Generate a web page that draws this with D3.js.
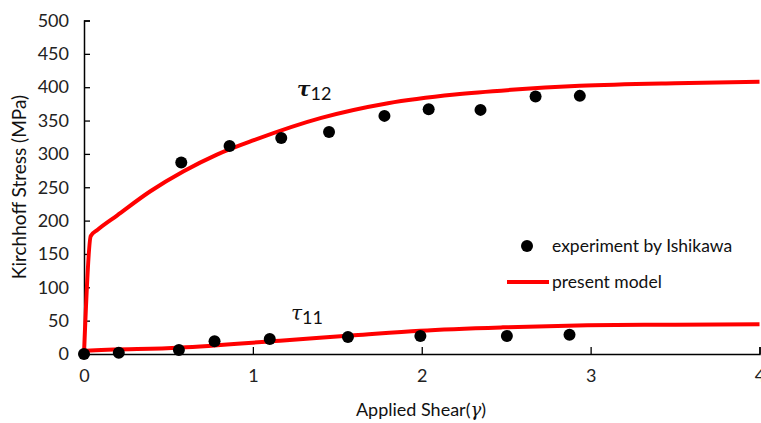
<!DOCTYPE html>
<html><head><meta charset="utf-8">
<script src="https://cdn.jsdelivr.net/npm/d3@7"></script>
<style>body{margin:0;background:#fff}svg{display:block}</style>
</head><body>
<svg id="c" width="761" height="423"></svg>
<script>
// experiment by Ishikawa, tau12
const expGamma12 = [0.576, 0.862, 1.168, 1.451, 1.779, 2.041, 2.348, 2.674, 2.936];
const expTau12   = [287, 312, 324, 333, 357, 367, 366, 386, 387];
// experiment by Ishikawa, tau11
const expGamma11 = [0, 0.206, 0.562, 0.773, 1.10, 1.563, 1.992, 2.504, 2.875];
const expTau11   = [0, 2, 6, 19, 22.5, 25.5, 27, 27, 29];
// present model, tau12
const modGamma12 = [0, 0.04, 0.079, 0.197, 0.393, 0.59, 0.787, 1.01, 1.405, 1.8, 2.196, 2.53, 2.936, 3.5, 4.0];
const modTau12   = [0, 177, 186, 208, 244, 274, 299, 321, 354, 376, 389, 396, 402, 406, 408];
// present model, tau11
const modGamma11 = [0, 0.013, 0.566, 1.16, 1.6, 1.99, 2.48, 2.98, 3.5, 4.0];
const modTau11   = [0, 5, 9.5, 20, 28, 35, 40, 43, 44, 44.5];
const xTicks = [0, 1, 2, 3, 4];
const yTicks = [0, 50, 100, 150, 200, 250, 300, 350, 400, 450, 500];

const svg = d3.select("#c");
const font = "Lato, 'Open Sans', sans-serif";
const x = d3.scaleLinear().domain([0, 4]).range([84, 759.5]);
const y = d3.scaleLinear().domain([0, 500]).range([354, 20.5]);

// axes
const gx = svg.append("g").attr("transform", `translate(0,${y(0)})`)
  .call(d3.axisBottom(x).tickValues(xTicks).tickSize(-7).tickPadding(15).tickFormat(d3.format("d")));
const gy = svg.append("g").attr("transform", `translate(${x(0)},0)`)
  .call(d3.axisLeft(y).tickValues(yTicks).tickSize(-6).tickPadding(15).tickFormat(d3.format("d")));
[gx, gy].forEach(g => {
  g.select(".domain").attr("stroke", "#000").attr("stroke-width", 1.5);
  g.selectAll(".tick line").attr("stroke", "#000").attr("stroke-width", 1.3);
  g.selectAll(".tick text").attr("fill", "#222").style("font-family", font).style("font-size", "18px");
});

// model lines
const line = d3.line().x(d => x(d[0])).y(d => y(d[1])).curve(d3.curveMonotoneX);
[[modGamma12, modTau12], [modGamma11, modTau11]].forEach(([g, t]) => {
  svg.append("path").datum(g.map((v, i) => [v, t[i]]))
    .attr("d", line).attr("fill", "none").attr("stroke", "#ff0000")
    .attr("stroke-width", 4).attr("stroke-linejoin", "round");
});

// experiment points
[[expGamma12, expTau12], [expGamma11, expTau11]].forEach(([g, t]) => {
  svg.append("g").selectAll("circle").data(g.map((v, i) => [v, t[i]])).join("circle")
    .attr("cx", d => x(d[0])).attr("cy", d => y(d[1])).attr("r", 6).attr("fill", "#000");
});

// curve labels
const l12 = svg.append("text").attr("x", 297).attr("y", 96)
  .style("font-family", "'DejaVu Serif', serif").style("font-size", "20px")
  .style("font-weight", "bold").style("font-style", "italic").attr("fill", "#111");
l12.append("tspan").text("τ");
l12.append("tspan").attr("dy", 4).style("font-family", font).style("font-weight", "normal")
  .style("font-style", "normal").style("font-size", "18px").text("12");
const l11 = svg.append("text").attr("x", 291).attr("y", 320)
  .style("font-family", "'DejaVu Serif', serif").style("font-size", "20px")
  .style("font-style", "italic").attr("fill", "#111");
l11.append("tspan").text("τ");
l11.append("tspan").attr("dy", 4).style("font-family", font)
  .style("font-style", "normal").style("font-size", "18px").text("11");

// axis titles
svg.append("text").attr("transform", "translate(26,187) rotate(-90)").attr("text-anchor", "middle")
  .style("font-family", font).style("font-size", "19px").attr("fill", "#111")
  .text("Kirchhoff  Stress (MPa)");
const xt = svg.append("text").attr("x", 421).attr("y", 416).attr("text-anchor", "middle")
  .style("font-family", font).style("font-size", "18px").attr("fill", "#111");
xt.append("tspan").text("Applied Shear(");
xt.append("tspan").style("font-family", "'DejaVu Serif', serif").style("font-style", "italic").text("γ");
xt.append("tspan").text(")");

// legend
svg.append("circle").attr("cx", 527).attr("cy", 246).attr("r", 6).attr("fill", "#000");
svg.append("text").attr("x", 552).attr("y", 252).style("font-family", font)
  .style("font-size", "17.5px").attr("fill", "#111").text("experiment by Ishikawa");
svg.append("line").attr("x1", 507).attr("x2", 549).attr("y1", 282).attr("y2", 282)
  .attr("stroke", "#ff0000").attr("stroke-width", 4);
svg.append("text").attr("x", 552).attr("y", 288).style("font-family", font)
  .style("font-size", "17.5px").attr("fill", "#111").text("present model");
</script>
</body></html>
